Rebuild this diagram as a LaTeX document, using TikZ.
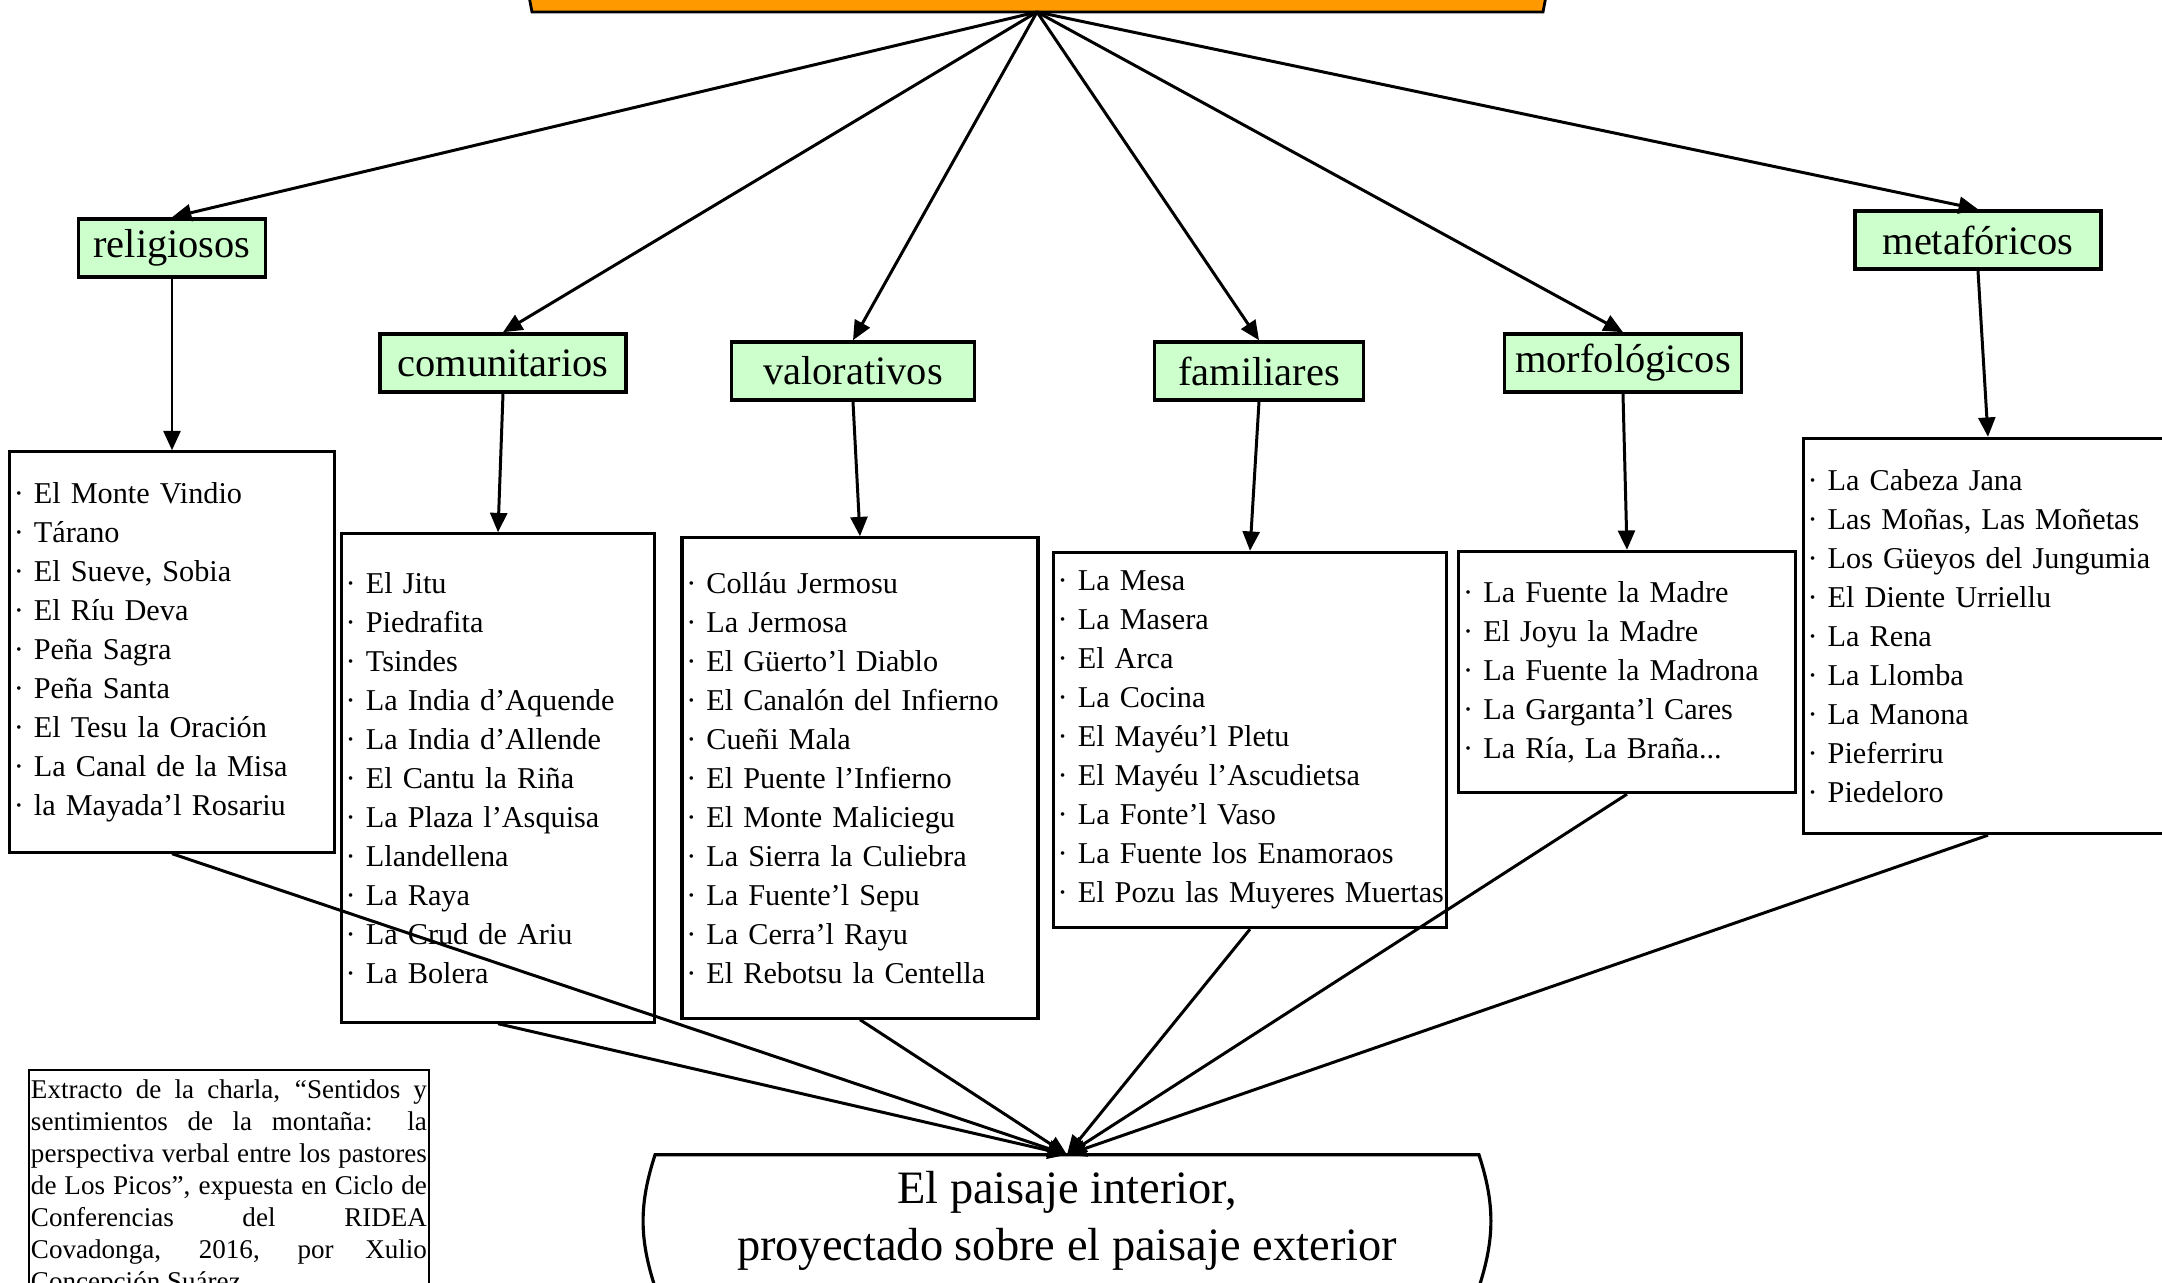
\documentclass[tikz,border=0pt]{standalone}
\usepackage{fontspec}
\setmainfont{Liberation Serif}
\usetikzlibrary{arrows.meta}
\definecolor{naranja}{HTML}{FF9900}
\definecolor{verdeclaro}{HTML}{CCFFCC}
\newcommand\singuion{\hyphenpenalty=10000\relax}

\begin{document}
\begin{tikzpicture}[x=.01cm,y=-.01cm,>={Triangle[length=5.5pt,width=4.8pt]},
  flecha/.style={->,line width=.85pt},
  categoria/.style={draw,line width=1pt,fill=verdeclaro,inner sep=0pt,
    minimum height=.58cm,font=\fontsize{11.5}{13}\selectfont},
  lista/.style={draw,line width=.9pt,align=left,inner xsep=1.2pt,
    font={\fontsize{8.6}{11.1}\selectfont\singuion}}]
  \useasboundingbox (0,0) rectangle (2162,1283);
  % title box, cut off at the top
  \filldraw[fill=naranja,line width=.8pt] (524,-30) -- (532,12) -- (1543,12) -- (1551,-30);
  \coordinate (titulo) at (1037,12);
  % categories
  \node[categoria,minimum width=1.87cm] (religiosos) at (172,248) {religiosos};
  \node[categoria,minimum width=2.46cm] (comunitarios) at (503,363) {comunitarios};
  \node[categoria,minimum width=2.43cm] (valorativos) at (853,371) {valorativos};
  \node[categoria,minimum width=2.09cm] (familiares) at (1259,371) {familiares};
  \node[categoria,minimum width=2.37cm] (morfologicos) at (1623,363) {morfológicos};
  \node[categoria,minimum width=2.46cm] (metaforicos) at (1978,240) {metafóricos};
  % lists of names
  \node[lista,text width=90pt,minimum height=4cm] (lreligiosos) at (172,652)
    {· El Monte Vindio\\ · Tárano\\ · El Sueve, Sobia\\ · El Ríu Deva\\ · Peña Sagra\\
     · Peña Santa\\ · El Tesu la Oración\\ · La Canal de la Misa\\ · la Mayada’l Rosariu};
  \node[lista,text width=86.6pt,minimum height=4.88cm] (lcomunitarios) at (498,778)
    {· El Jitu\\ · Piedrafita\\ · Tsindes\\ · La India d’Aquende\\ · La India d’Allende\\
     · El Cantu la Riña\\ · La Plaza l’Asquisa\\ · Llandellena\\ · La Raya\\
     · La Crud de Ariu\\ · La Bolera};
  \node[lista,text width=98.8pt,minimum height=4.8cm] (lvalorativos) at (860,778)
    {· Colláu Jermosu\\ · La Jermosa\\ · El Güerto’l Diablo\\ · El Canalón del Infierno\\
     · Cueñi Mala\\ · El Puente l’Infierno\\ · El Monte Maliciegu\\ · La Sierra la Culiebra\\
     · La Fuente’l Sepu\\ · La Cerra’l Rayu\\ · El Rebotsu la Centella};
  \node[lista,text width=109.4pt,minimum height=3.75cm] (lfamiliares) at (1250,740)
    {· La Mesa\\ · La Masera\\ · El Arca\\ · La Cocina\\ · El Mayéu’l Pletu\\
     · El Mayéu l’Ascudietsa\\ · La Fonte’l Vaso\\ · La Fuente los Enamoraos\\
     \mbox{· El Pozu las Muyeres Muertas}};
  \node[lista,text width=93.2pt,minimum height=2.41cm] (lmorfologicos) at (1627,672)
    {· La Fuente la Madre\\ · El Joyu la Madre\\ · La Fuente la Madrona\\
     · La Garganta’l Cares\\ · La Ría, La Braña...};
  \node[lista,text width=102.6pt,minimum height=3.95cm] (lmetaforicos) at (1988,636)
    {· La Cabeza Jana\\ · Las Moñas, Las Moñetas\\ · Los Güeyos del Jungumia\\
     · El Diente Urriellu\\ · La Rena\\ · La Llomba\\ · La Manona\\ · Pieferriru\\ · Piedeloro};
  % result
  \node[minimum width=8.22cm,minimum height=1.31cm,align=center,
    font=\fontsize{13.2}{16}\selectfont] (paisaje) at (1067,1221)
    {El paisaje interior,\\ proyectado sobre el paisaje exterior};
  \draw[line width=.9pt] (paisaje.south west) to[bend left=18] (paisaje.north west)
    -- (paisaje.north east) to[bend left=18] (paisaje.south east);
  % source note
  \node[draw,line width=.5pt,anchor=north west,inner xsep=.6pt,inner ysep=2.8pt,
    text width=112.6pt,align=justify,font={\fontsize{7.7}{9.1}\selectfont\singuion}] (nota) at (28,1069)
    {Extracto de la charla, “Sentidos y\linebreak sentimientos de la
     montaña: la\linebreak perspectiva verbal entre los pastores\linebreak de Los Picos”,
     expuesta en Ciclo de\linebreak Conferencias del RIDEA\linebreak Covadonga, 2016, por
     Xulio\linebreak Concepción Suárez};
  % connectors
  \foreach \c in {religiosos,comunitarios,valorativos,familiares,morfologicos,metaforicos}{
    \draw[flecha] (titulo) -- (\c.north);
    \draw[flecha] (\c.south) -- (l\c.north);
    \draw[flecha] (l\c.south) -- (paisaje.north);
  }
\end{tikzpicture}
\end{document}
